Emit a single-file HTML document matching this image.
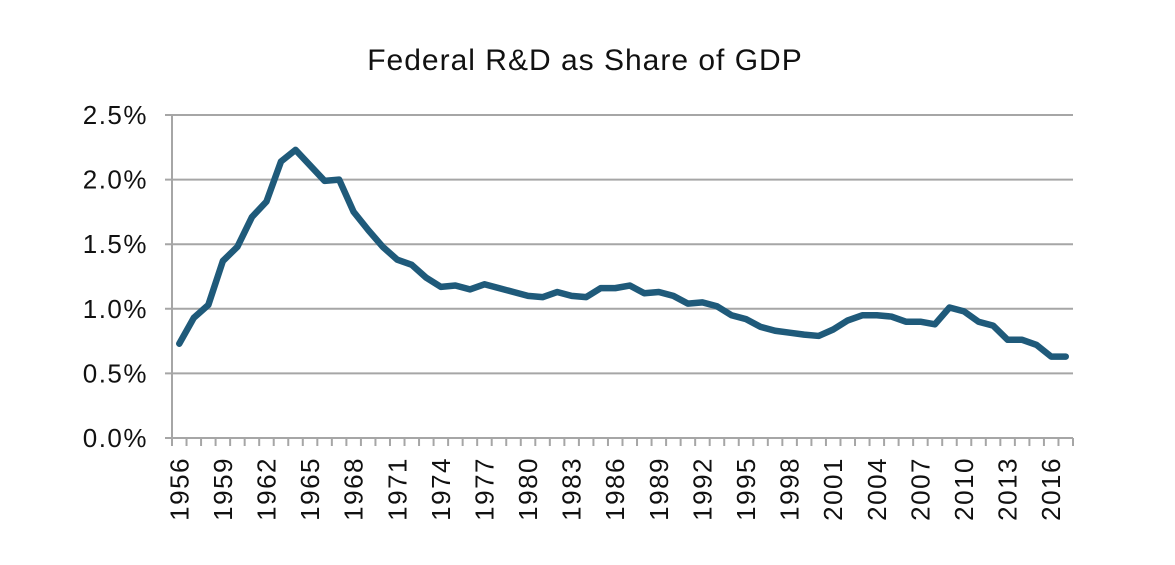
<!DOCTYPE html>
<html><head><meta charset="utf-8"><style>
html,body{margin:0;padding:0;background:#fff;width:1175px;height:565px;overflow:hidden}
svg text{font-family:"Liberation Sans",sans-serif;fill:#111}
</style></head><body>
<svg id="chart" width="1175" height="565" xmlns="http://www.w3.org/2000/svg">
<text x="585" y="70" text-anchor="middle" font-size="30" letter-spacing="1">Federal R&amp;D as Share of GDP</text>
<g id="grid"></g><g id="yl"></g><g id="xl"></g><g id="ln"></g>
</svg>
<script>
const years = [];
for (let y = 1956; y <= 2017; y++) years.push(y);
const shares = [0.73,0.93,1.03,1.37,1.48,1.71,1.83,2.14,2.23,2.11,1.99,2.00,1.75,1.61,1.48,1.38,1.34,1.24,1.17,1.18,1.15,1.19,1.16,1.13,1.10,1.09,1.13,1.10,1.09,1.16,1.16,1.18,1.12,1.13,1.10,1.04,1.05,1.02,0.95,0.92,0.86,0.83,0.815,0.80,0.79,0.84,0.91,0.95,0.95,0.94,0.90,0.90,0.88,1.01,0.98,0.90,0.87,0.76,0.76,0.72,0.63,0.63];
const yTicks = [0,0.5,1.0,1.5,2.0,2.5];
const yTickLabels = ["0.0%","0.5%","1.0%","1.5%","2.0%","2.5%"];
const NS="http://www.w3.org/2000/svg";
const L=172,R=1073,T=115,B=438;
const bw=(R-L)/years.length;
function xs(i){return L+bw*(i+0.5);}
function ys(v){return B-(v/2.5)*(B-T);}
function mk(t,a,p){const e=document.createElementNS(NS,t);for(const k in a)e.setAttribute(k,a[k]);p.appendChild(e);return e;}
const g=document.getElementById('grid'),yl=document.getElementById('yl'),xl=document.getElementById('xl'),ln=document.getElementById('ln');
yTicks.forEach((v,i)=>{
  const y=ys(v);
  const l=mk('line',{x1:L-7,x2:R,y1:y,y2:y,stroke:'#a6a6a6','stroke-width':2},g);
  
  
  const t=mk('text',{x:148,y:y+9,'text-anchor':'end','font-size':26,'letter-spacing':1.5},yl);
  t.textContent=yTickLabels[i];
  
  
});
const ax=mk('line',{x1:L,x2:L,y1:T,y2:B,stroke:'#a6a6a6','stroke-width':2},g);


for(let i=0;i<=years.length;i++){
  const x=L+bw*i;
  const tk=mk('line',{x1:x,x2:x,y1:B,y2:B+8,stroke:'#a6a6a6','stroke-width':2},g);
  
  
}
years.forEach((yr,i)=>{
  if((yr-1956)%3!==0)return;
  const x=xs(i)+9,y=457;
  const t=mk('text',{x:x,y:y,'text-anchor':'end','font-size':26,'letter-spacing':1.5,transform:`rotate(-90 ${x} ${y})`},xl);
  t.textContent=yr;
  
  
});
const p=mk('polyline',{points:shares.map((v,i)=>xs(i)+','+ys(v)).join(' '),fill:'none',stroke:'#1f5a7a','stroke-width':6.5,'stroke-linejoin':'round','stroke-linecap':'round'},ln);


</script>
</body></html>
